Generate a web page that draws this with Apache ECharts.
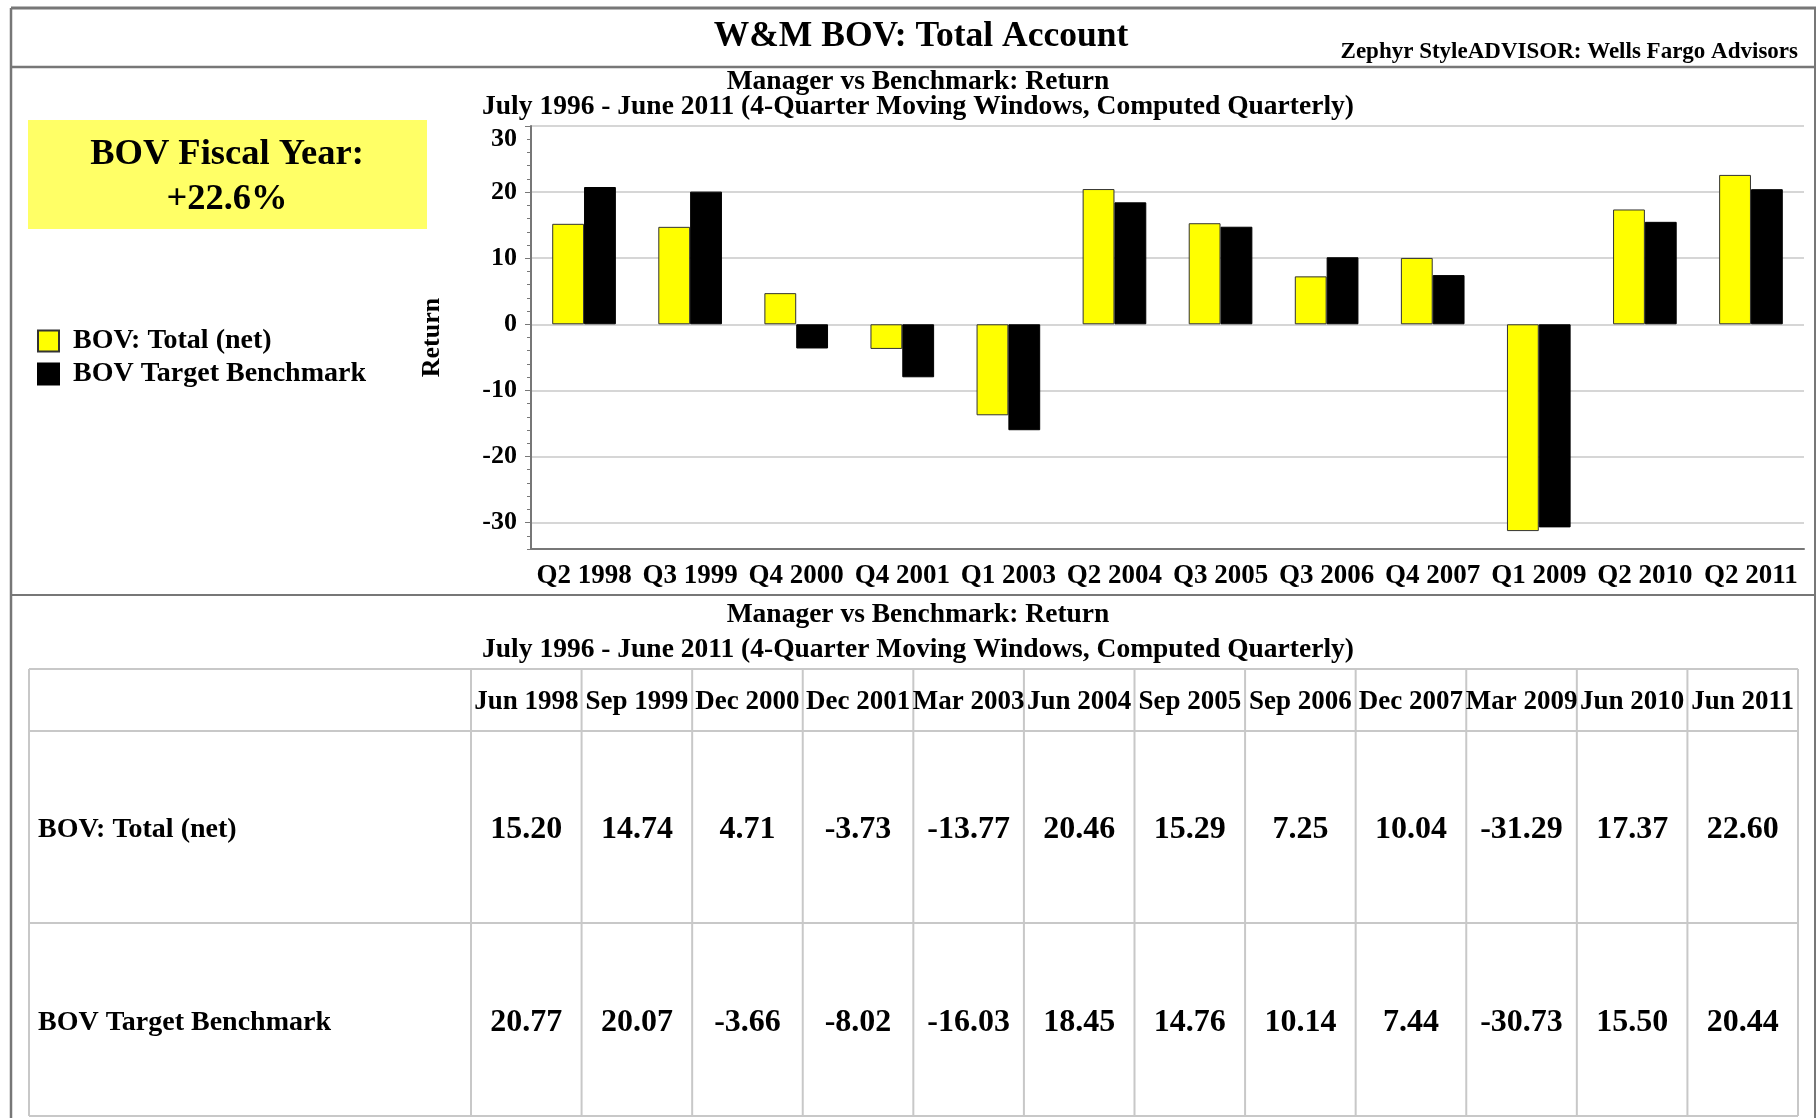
<!DOCTYPE html>
<html>
<head>
<meta charset="utf-8">
<script src="https://cdn.jsdelivr.net/npm/echarts@6/dist/echarts.min.js"></script>
<style>
  html, body { margin: 0; padding: 0; background: #fff; }
  #container { width: 1816px; height: 1118px; }
</style>
</head>
<body>
<div id="container"></div>
<script>
// chart data
var categories = ['Q2 1998', 'Q3 1999', 'Q4 2000', 'Q4 2001', 'Q1 2003', 'Q2 2004',
                  'Q3 2005', 'Q3 2006', 'Q4 2007', 'Q1 2009', 'Q2 2010', 'Q2 2011'];
var periodEnds = ['Jun 1998', 'Sep 1999', 'Dec 2000', 'Dec 2001', 'Mar 2003', 'Jun 2004',
                  'Sep 2005', 'Sep 2006', 'Dec 2007', 'Mar 2009', 'Jun 2010', 'Jun 2011'];
var bovTotal = [15.20, 14.74, 4.71, -3.73, -13.77, 20.46, 15.29, 7.25, 10.04, -31.29, 17.37, 22.60];
var bovBenchmark = [20.77, 20.07, -3.66, -8.02, -16.03, 18.45, 14.76, 10.14, 7.44, -30.73, 15.50, 20.44];
var seriesNames = ['BOV: Total (net)', 'BOV Target Benchmark'];
var yMajorTicks = [-30, -20, -10, 0, 10, 20, 30];

var FONT = "'Liberation Serif', 'Times New Roman', serif";
var subtitle1 = 'Manager vs Benchmark: Return';
var subtitle2 = 'July 1996 - June 2011 (4-Quarter Moving Windows, Computed Quarterly)';

function txt(x, y, text, size, align, weight) {
    return {
        type: 'text', x: x, y: y, silent: true,
        style: {
            text: text, fontSize: size, fontWeight: weight || 'bold', fontFamily: FONT,
            fill: '#000', align: align || 'center', verticalAlign: 'middle'
        }
    };
}
function line(x1, y1, x2, y2, color, w) {
    return { type: 'line', silent: true, shape: { x1: x1, y1: y1, x2: x2, y2: y2 },
             style: { stroke: color, lineWidth: w } };
}

var graphics = [];
// frame
graphics.push(line(11, 8, 1816, 8, '#777', 3));
graphics.push(line(11, 8, 11, 1118, '#777', 2.5));
graphics.push(line(1815, 8, 1815, 1118, '#777', 2));
graphics.push(line(11, 67, 1815, 67, '#777', 2.5));
graphics.push(line(11, 595, 1815, 595, '#777', 2));

// header texts
graphics.push(txt(921, 37, 'W&M BOV: Total Account', 35.5));
graphics.push(txt(1798, 52, 'Zephyr StyleADVISOR: Wells Fargo Advisors', 23, 'right'));
graphics.push(txt(918, 82, subtitle1, 27.5));
graphics.push(txt(918, 107, subtitle2, 27.5));

// fiscal year box
var last = bovTotal[bovTotal.length - 1];
graphics.push({ type: 'rect', silent: true, shape: { x: 28, y: 120, width: 399, height: 109 },
                style: { fill: '#ffff66' } });
graphics.push(txt(227, 155, 'BOV Fiscal Year:', 36.5));
graphics.push(txt(227, 200, '+' + last.toFixed(1) + '%', 36.5));

// table
var tableLeft = 29, headCol = 471, tableRight = 1798;
var rowY = [669, 731, 923, 1116];
var colW = (tableRight - headCol) / periodEnds.length;
graphics.push(txt(918, 615, subtitle1, 27.5));
graphics.push(txt(918, 650, subtitle2, 27.5));
rowY.forEach(function (y) { graphics.push(line(tableLeft, y, tableRight, y, '#c8c8c8', 2)); });
graphics.push(line(tableLeft, rowY[0], tableLeft, rowY[3], '#c8c8c8', 2));
for (var c = 0; c <= periodEnds.length; c++) {
    var cx = headCol + c * colW;
    graphics.push(line(cx, rowY[0], cx, rowY[3], '#c8c8c8', 2));
}
var rows = [bovTotal, bovBenchmark];
periodEnds.forEach(function (p, i) {
    var cx = headCol + (i + 0.5) * colW;
    graphics.push(txt(cx, (rowY[0] + rowY[1]) / 2 + 2, p, 27));
    rows.forEach(function (r, k) {
        graphics.push(txt(cx, (rowY[k + 1] + rowY[k + 2]) / 2 + 3, r[i].toFixed(2), 32));
    });
});
seriesNames.forEach(function (n, k) {
    graphics.push(txt(38, (rowY[k + 1] + rowY[k + 2]) / 2 + 3, n, 28, 'left'));
});

var chart = echarts.init(document.getElementById('container'));
chart.setOption({
    animation: false,
    backgroundColor: '#fff',
    textStyle: { fontFamily: FONT },
    legend: {
        orient: 'vertical',
        left: 37,
        top: 327,
        padding: 0,
        itemWidth: 21,
        itemHeight: 21,
        itemGap: 5,
        icon: 'rect',
        textStyle: { fontSize: 28, fontWeight: 'bold', color: '#000', fontFamily: FONT,
                     padding: [0, 0, 0, 9], lineHeight: 27 },
        data: seriesNames
    },
    grid: { left: 531, right: 12, top: 126, bottom: 569, containLabel: false },
    xAxis: {
        type: 'category',
        data: categories,
        axisLine: { onZero: false, lineStyle: { color: '#777', width: 2 } },
        axisTick: { alignWithLabel: true, length: 9, lineStyle: { color: '#777', width: 1.5 } },
        axisLabel: { interval: 0, margin: 14, fontSize: 27, fontWeight: 'bold', color: '#000',
                     fontFamily: FONT },
        splitLine: { show: false }
    },
    yAxis: [{
        type: 'value',
        min: -34,
        max: 30,
        interval: 2,
        axisLine: { show: true, lineStyle: { color: '#777', width: 2 } },
        axisTick: { show: true, length: 4, lineStyle: { color: '#777', width: 1 } },
        axisLabel: { show: false },
        splitLine: { show: false }
    }, {
        type: 'value',
        position: 'left',
        min: -34,
        max: 30,
        name: 'Return',
        nameLocation: 'middle',
        nameRotate: 90,
        nameGap: 86,
        nameTextStyle: { fontSize: 26, fontWeight: 'bold', color: '#000', fontFamily: FONT },
        axisLine: { show: false },
        axisTick: { show: true, length: 6, customValues: yMajorTicks,
                    lineStyle: { color: '#777', width: 1 } },
        axisLabel: {
            customValues: yMajorTicks,
            margin: 14,
            fontSize: 26,
            fontWeight: 'bold',
            color: '#000',
            fontFamily: FONT,
            formatter: function (v) { return v === 30 ? '{top|30}' : String(v); },
            rich: { top: { padding: [26, 0, 0, 0], fontSize: 26, fontWeight: 'bold',
                           fontFamily: FONT, color: '#000' } }
        },
        splitLine: { show: true, lineStyle: { color: '#c8c8c8', width: 1.5 } }
    }],
    series: [{
        name: seriesNames[0],
        type: 'bar',
        data: bovTotal,
        barGap: '0%',
        barCategoryGap: '40%',
        itemStyle: { color: '#ffff00', borderColor: '#333', borderWidth: 1 }
    }, {
        name: seriesNames[1],
        type: 'bar',
        data: bovBenchmark,
        barGap: '0%',
        barCategoryGap: '40%',
        itemStyle: { color: '#000000', borderColor: '#000', borderWidth: 1 }
    }],
    graphic: graphics
});
</script>
</body>
</html>
